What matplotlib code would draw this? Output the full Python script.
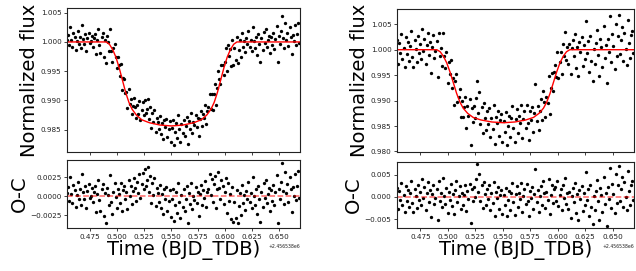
import numpy as np
import matplotlib
matplotlib.use("Agg")
import matplotlib.pyplot as plt
from matplotlib.ticker import MultipleLocator

# ────────────── data ──────────────
BJD_OFFSET = 2456538.0

times = [
    0.4537, 0.4547, 0.4557, 0.4567, 0.4577, 0.4587, 0.4597, 0.4607, 0.4617, 0.4627, 0.4637, 0.4647,
    0.4657, 0.4667, 0.4677, 0.4687, 0.4697, 0.4707, 0.4717, 0.4727, 0.4737, 0.4747, 0.4757, 0.4767,
    0.4777, 0.4787, 0.4797, 0.4807, 0.4817, 0.4827, 0.4837, 0.4847, 0.4857, 0.4867, 0.4877, 0.4887,
    0.4897, 0.4907, 0.4917, 0.4927, 0.4937, 0.4947, 0.4957, 0.4967, 0.4977, 0.4987, 0.4997, 0.5007,
    0.5017, 0.5027, 0.5037, 0.5047, 0.5057, 0.5067, 0.5077, 0.5087, 0.5097, 0.5107, 0.5117, 0.5127,
    0.5137, 0.5147, 0.5157, 0.5167, 0.5177, 0.5187, 0.5197, 0.5207, 0.5217, 0.5227, 0.5237, 0.5247,
    0.5257, 0.5267, 0.5277, 0.5287, 0.5297, 0.5307, 0.5317, 0.5327, 0.5337, 0.5347, 0.5357, 0.5367,
    0.5377, 0.5387, 0.5397, 0.5407, 0.5417, 0.5427, 0.5437, 0.5447, 0.5457, 0.5467, 0.5477, 0.5487,
    0.5497, 0.5507, 0.5517, 0.5527, 0.5537, 0.5547, 0.5557, 0.5567, 0.5577, 0.5587, 0.5597, 0.5607,
    0.5617, 0.5627, 0.5637, 0.5647, 0.5657, 0.5667, 0.5677, 0.5687, 0.5697, 0.5707, 0.5717, 0.5727,
    0.5737, 0.5747, 0.5757, 0.5767, 0.5777, 0.5787, 0.5797, 0.5807, 0.5817, 0.5827, 0.5837, 0.5847,
    0.5857, 0.5867, 0.5877, 0.5887, 0.5897, 0.5907, 0.5917, 0.5927, 0.5937, 0.5947, 0.5957, 0.5967,
    0.5977, 0.5987, 0.5997, 0.6007, 0.6017, 0.6027, 0.6037, 0.6047, 0.6057, 0.6067, 0.6077, 0.6087,
    0.6097, 0.6107, 0.6117, 0.6127, 0.6137, 0.6147, 0.6157, 0.6167, 0.6177, 0.6187, 0.6197, 0.6207,
    0.6217, 0.6227, 0.6237, 0.6247, 0.6257, 0.6267, 0.6277, 0.6287, 0.6297, 0.6307, 0.6317, 0.6327,
    0.6337, 0.6347, 0.6357, 0.6367, 0.6377, 0.6387, 0.6397, 0.6407, 0.6417, 0.6427, 0.6437, 0.6447,
    0.6457, 0.6467, 0.6477, 0.6487, 0.6497, 0.6507, 0.6517, 0.6527, 0.6537, 0.6547, 0.6557, 0.6567,
    0.6577, 0.6587, 0.6597, 0.6607, 0.6617, 0.6627, 0.6637, 0.6647, 0.6657, 0.6667, 0.6677, 0.6687,
]

# transit model (same for both light curves)
model_time = [0.4537, 0.4900, 0.4930, 0.4960, 0.4990, 0.5020, 0.5050, 0.5080, 0.5110,
              0.5140, 0.5180, 0.5230, 0.5300, 0.5400, 0.5506, 0.5610, 0.5710, 0.5780,
              0.5830, 0.5870, 0.5900, 0.5930, 0.5960, 0.5990, 0.6020, 0.6050, 0.6080,
              0.6110, 0.6694]
model_flux = [1.0000, 1.0000, 0.9996, 0.9987, 0.9974, 0.9956, 0.9935, 0.9914, 0.9897,
              0.9885, 0.9875, 0.9867, 0.9862, 0.9858, 0.98565, 0.9858, 0.9862, 0.9867,
              0.9875, 0.9885, 0.9897, 0.9914, 0.9935, 0.9956, 0.9974, 0.9987, 0.9996,
              1.0000, 1.0000]

# O-C residuals in parts per thousand
oc_left = [
    0.4, 1.2, -0.6, 2.6, 0.3, -0.9, 1.5, 0.8, -1.4, 0.2, 1.9, -0.3,
    0.9, -1.1, 2.9, 0.5, -0.4, 1.3, -1.6, 0.7, 1.6, -0.2, 0.1, 1.1,
    -0.8, 0.6, 1.4, -2.1, 0.3, 2.2, -0.5, -1.9, 0.9, 1.6, -2.6, 0.4,
    -3.6, 1.1, 0.2, -1.2, 2.8, -0.7, -2.3, 0.6, 1.7, -0.1, -1.5, 1.0,
    0.3, -0.9, 1.8, -2.0, 0.8, 1.4, -0.4, 0.5, -1.7, 2.1, 0.0, 1.3,
    -1.0, 0.7, 2.4, 1.1, -0.6, 1.9, 0.4, 2.9, -0.2, 1.6, 3.1, 0.9,
    3.6, 1.4, 2.2, 3.9, 0.6, 2.7, -0.9, 1.8, 0.2, 2.4, -1.3, 1.1,
    0.4, -0.8, 1.5, -1.6, 0.3, -2.4, 0.9, -0.3, 1.2, -1.9, -0.6, 0.8,
    -2.8, -0.4, 1.0, -3.3, -1.1, 0.5, -2.2, 1.7, -0.7, -2.9, 0.2, -1.4,
    0.9, -2.0, -0.3, 1.3, -3.5, 0.4, -1.0, 1.8, -1.7, 0.1, -0.5, 1.2,
    -0.9, 0.6, -2.6, 0.3, 1.5, -1.2, 0.8, -0.2, 2.0, -1.4, 0.5, 1.0,
    3.0, 0.2, 2.3, -0.8, 1.6, 2.7, -1.5, 0.9, 3.2, 1.1, -0.4, 2.1,
    1.4, -1.0, 0.5, 2.4, -2.2, 1.7, -0.6, 0.3, -3.0, 1.2, -3.4, -0.7,
    -2.9, 0.8, -3.6, -1.3, 0.4, -2.5, 1.5, -0.9, 0.2, -1.8, 0.7, -0.3,
    1.9, -0.8, 0.4, -1.6, 2.6, 0.1, -1.1, 0.9, -2.3, 1.3, -0.4, -3.4,
    0.6, -1.4, 1.7, -0.2, 2.2, -0.9, 0.3, 1.1, -1.9, 0.8, -0.6, 1.5,
    -1.2, 0.5, 2.8, -3.5, 1.0, -0.3, 1.9, 4.4, 0.7, -1.0, 3.2, 0.4,
    1.6, -0.7, 2.5, 0.9, -2.1, 1.2, 0.1, 2.9, -0.5, 1.4, 3.3, -0.2,
]

oc_right = [
    2.0, -2.8, 1.3, -0.6, 3.1, -1.9, 0.4, -3.3, 2.4, -0.9, 1.6, -2.2,
    0.8, 3.6, -1.4, -3.4, 1.9, 0.2, -2.5, 2.7, -0.7, 1.1, -1.8, 4.0,
    -0.3, 2.2, -2.9, 0.9, 3.3, -1.1, 1.5, -4.6, 0.6, 2.8, -1.6, -0.2,
    1.8, -5.3, 3.5, -0.8, 1.0, -2.3, 4.4, 0.3, -1.5, 2.1, -3.6, 1.2,
    -0.6, 2.9, -2.0, 0.7, -3.9, 1.6, 3.7, -1.2, 0.2, 2.4, -2.7, 1.0,
    -1.9, 0.5, 2.6, -3.2, 1.4, -0.4, 3.0, -5.8, 1.7, -1.0, 2.2, 0.1,
    4.1, 7.5, 1.2, 5.3, -0.9, 2.6, -2.4, 3.4, 0.6, -1.7, 1.9, -0.5,
    2.7, -3.0, 0.8, -1.3, 3.3, -4.2, 1.1, -0.2, 2.3, -2.6, 0.5, 1.6,
    -3.8, 0.4, -1.8, 2.0, -4.4, -0.7, 1.3, -2.9, 0.9, 3.2, -1.1, -4.0,
    0.6, 2.5, -2.2, 1.0, -0.4, 3.1, -3.5, 0.2, 1.8, -1.6, 2.9, -0.8,
    -4.2, 1.4, -0.3, 2.2, -2.8, 0.7, 6.3, -1.2, 1.6, -3.3, 0.3, 2.4,
    -1.9, 3.5, 0.9, -2.5, 1.2, -0.6, 4.1, -3.9, 0.5, 2.8, -1.4, 1.7,
    2.3, -0.8, 3.6, -2.1, 0.4, 1.9, -3.0, 2.6, -0.2, 4.3, -1.5, 0.8,
    -2.7, 1.1, -4.7, 0.3, 2.0, -1.2, 3.1, -3.6, 0.6, -5.1, 1.5, -0.4,
    2.5, -3.2, 0.9, -1.8, 5.6, -0.7, 1.8, -4.4, 2.7, -2.3, -6.2, 0.2,
    -2.9, 1.4, 3.8, -1.0, -5.1, 2.1, 0.5, -3.4, 4.6, -1.6, 1.0, -6.5,
    2.2, -0.5, 6.6, -2.4, 3.0, 0.7, -3.7, 5.1, -1.3, 2.6, 6.9, -0.9,
    1.9, 4.5, -2.2, 3.3, 0.1, -3.0, 5.9, 1.4, -1.7, 2.8, 3.6, -0.6,
]

# ────────────── figure ──────────────
fig = plt.figure(figsize=(6.36, 2.71), dpi=100)

panels = [
    # (O-C list, top axes rect, bottom axes rect, flux ylim, flux ticks, oc ylim, oc step)
    (oc_left, [0.1053, 0.4391, 0.3664, 0.5314], [0.1053, 0.1587, 0.3664, 0.2509],
     (0.9812, 1.0058), [0.985, 0.990, 0.995, 1.000, 1.005], (-0.0042, 0.0048), 0.0025),
    (oc_right, [0.6242, 0.4391, 0.3726, 0.5277], [0.6242, 0.1587, 0.3726, 0.2435],
     (0.9799, 1.0080), [0.980, 0.985, 0.990, 0.995, 1.000, 1.005], (-0.0070, 0.0079), 0.005),
]

t = np.array(times) + BJD_OFFSET
mt = np.array(model_time) + BJD_OFFSET
mf = np.array(model_flux)
model_at_t = np.interp(t, mt, mf)

for oc, rect_top, rect_bot, fl_lim, fl_ticks, oc_lim, oc_step in panels:
    resid = np.array(oc) * 1e-3
    flux = model_at_t + resid

    ax1 = fig.add_axes(rect_top)
    ax2 = fig.add_axes(rect_bot)

    ax1.plot(t, flux, 'o', color='black', ms=2.4, mew=0)
    ax1.plot(mt, mf, '-', color='red', lw=1.0)
    ax1.set_ylim(*fl_lim)
    ax1.set_yticks(fl_ticks)
    ax1.set_ylabel('Normalized flux', fontsize=14, labelpad=1)
    ax1.tick_params(labelbottom=False)

    ax2.plot(t, resid, 'o', color='black', ms=2.4, mew=0)
    ax2.axhline(0, color='red', ls='--', lw=1.1, alpha=0.6)
    ax2.set_ylim(*oc_lim)
    ax2.yaxis.set_major_locator(MultipleLocator(oc_step))
    ax2.xaxis.set_major_locator(MultipleLocator(0.025))
    ax2.set_ylabel('O-C', fontsize=14, labelpad=1)
    ax2.set_xlabel('Time (BJD_TDB)', fontsize=14, labelpad=0)
    ax2.xaxis.get_offset_text().set_fontsize(3.3)

    for ax in (ax1, ax2):
        ax.set_xlim(BJD_OFFSET + 0.4537, BJD_OFFSET + 0.6694)
        ax.tick_params(labelsize=5.2, length=2.5, width=0.6, pad=1.5, colors='#222222')
        for sp in ax.spines.values():
            sp.set_linewidth(0.8)
            sp.set_color('#222222')

plt.savefig("out.png", dpi=100)
